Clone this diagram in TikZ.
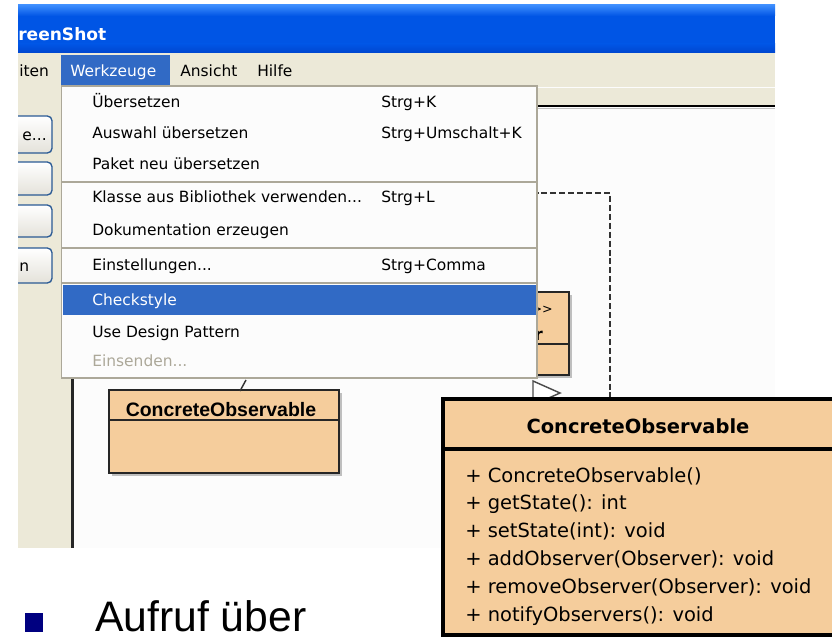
\documentclass[tikz,border=0pt]{standalone}
\usepackage{fontspec}
\usepackage{graphicx}
\setmainfont{DejaVu Sans}
\newfontfamily\uifont{DejaVu Sans}
\newfontfamily\slidefont{Liberation Sans}

\definecolor{xpblue}{HTML}{0055E5}
\definecolor{xpbluelight}{HTML}{3D8DFD}
\definecolor{xpbluedark}{HTML}{0046CF}
\definecolor{xpbeige}{HTML}{ECE9D8}
\definecolor{xpsel}{HTML}{316AC5}
\definecolor{menugray}{HTML}{ACA899}
\definecolor{menubg}{HTML}{FCFCFC}
\definecolor{btnborder}{HTML}{2A5A94}
\definecolor{btnbottom}{HTML}{E4E2DA}
\definecolor{umlfill}{HTML}{F5CD9C}
\definecolor{bulletblue}{HTML}{000080}
\definecolor{greytext}{HTML}{ACA899}

\tikzset{
  uitext/.style={anchor=base west, inner sep=0pt, font={\uifont\fontsize{11.6pt}{14pt}\selectfont}},
  shortcut/.style={uitext},
  menuhead/.style={uitext},
  winbutton/.style={draw=btnborder, line width=1pt, rounded corners=3.5pt,
                    top color=white, bottom color=btnbottom},
  sep/.style={draw=menugray, line width=1pt},
  umlbox/.style={fill=umlfill, draw=black!85, line width=1.1pt},
  umlshadow/.style={fill=black!25},
  method/.style={anchor=base west, inner sep=0pt, font={\uifont\fontsize{14.6pt}{17pt}\selectfont}},
  assoc/.style={draw=black!80, line width=1.2pt, dash pattern=on 4.5pt off 2.2pt},
}

\begin{document}
\begin{tikzpicture}[x=0.75pt, y=-0.75pt]
\useasboundingbox (0,0) rectangle (832,638);
\fill[white] (0,0) rectangle (832,638);

% ---------------- application window ----------------
\begin{scope}
  \clip (18,5) rectangle (775,548);

  % title bar
  \shade[top color=xpbluelight, bottom color=xpblue] (18,5) rectangle (775,16);
  \fill[xpblue] (18,16) rectangle (775,44);
  \shade[top color=xpblue, bottom color=xpbluedark] (18,44) rectangle (775,53);
  \node[anchor=base west, inner sep=0pt, text=white,
        font={\uifont\bfseries\fontsize{12.8pt}{15pt}\selectfont}] (title) at (18,41) {reenShot};

  % menu bar
  \fill[xpbeige] (18,53) rectangle (775,87);
  \fill[xpsel] (61,55) rectangle (170,87);
  \node[menuhead] (mbearb) at (19,77) {iten};
  \node[menuhead, text=white] (mwerkz) at (70,77) {Werkzeuge};
  \node[menuhead] (mansicht) at (180,77) {Ansicht};
  \node[menuhead] (mhilfe) at (257,77) {Hilfe};

  % left tool panel
  \fill[xpbeige] (18,87) rectangle (71,548);
  \fill[black!85] (71,87) rectangle (73.5,548);

  % buttons of the tool panel
  \draw[winbutton] (0,116) rectangle (52,153);
  \draw[winbutton] (0,162) rectangle (52,195);
  \draw[winbutton] (0,205) rectangle (52,237);
  \draw[winbutton] (0,248) rectangle (52,283);
  \node[uitext, anchor=base east] (btnone) at (47,141) {e...};
  \node[uitext] (btnfour) at (19,272) {n};

  % diagram canvas
  \fill[white!99!black] (73.5,87) rectangle (775,548);
  \fill[xpbeige] (73.5,88) rectangle (775,105);
  \draw[black, line width=1.2pt] (73.5,106) -- (775,106);
  \draw[black!25, line width=0.8pt] (73.5,108.5) -- (775,108.5);

  % dependency line (dashed)
  \coordinate (dashstart) at (470,193);
  \coordinate (dashcorner) at (610,193);
  \coordinate (dashend) at (610,400);
  \draw[assoc] (dashstart) -- (dashcorner) -- (dashend);

  % interface class box
  \fill[umlshadow] (423,295) rectangle (572,378);
  \draw[umlbox] (420,292) rectangle (569,375);
  \draw[black!85, line width=1.1pt] (420,344) -- (569,344);
  \node[anchor=base east, inner sep=0pt, font={\uifont\fontsize{9.5pt}{11pt}\selectfont}]
        (stereo) at (553,313) {<<interface>>};
  \node[anchor=base east, inner sep=0pt, font={\uifont\bfseries\fontsize{12.5pt}{14pt}\selectfont}]
        (obsname) at (543,340) {Observer};

  % generalisation arrow head
  \draw[draw=black!70, fill=white, line width=1.1pt] (533,381) -- (560,393) -- (533,405) -- cycle;

  % small class box
  \fill[umlshadow] (112,393) rectangle (342,476);
  \draw[umlbox] (109,390) rectangle (339,473);
  \draw[black!85, line width=1.1pt] (109,420) -- (339,420);
  \node[anchor=base, inner sep=0pt, font={\slidefont\bfseries\fontsize{14.6pt}{17pt}\selectfont}]
        (smalltitle) at (221,416) {ConcreteObservable};

  % fragments of connectors near the small box
  \coordinate (fraga) at (240,391);
  \coordinate (fragb) at (246,380);
  \draw[black!80, line width=1.1pt] (fraga) -- (fragb);
  \fill[black!45] (223,377) circle (1.1);

  % drop-down menu
  \filldraw[fill=menubg, draw=menugray, line width=1.2pt] (61.5,86) rectangle (537,378);
  \draw[sep] (62,182) -- (536.5,182);
  \draw[sep] (62,248) -- (536.5,248);
  \draw[sep] (62,283) -- (536.5,283);
  \fill[xpsel] (62.5,285) rectangle (536,315);

  \node[uitext] (iuebers) at (92,108) {Übersetzen};
  \node[shortcut] (kuebers) at (381,108) {Strg+K};
  \node[uitext] (iauswahl) at (92,139) {Auswahl übersetzen};
  \node[shortcut] (kauswahl) at (381,139) {Strg+Umschalt+K};
  \node[uitext] (ipaket) at (92,170) {Paket neu übersetzen};
  \node[uitext] (iklasse) at (92,203) {Klasse aus Bibliothek verwenden...};
  \node[shortcut] (kklasse) at (381,203) {Strg+L};
  \node[uitext] (idoku) at (92,235) {Dokumentation erzeugen};
  \node[uitext] (ieinst) at (92,271) {Einstellungen...};
  \node[shortcut] (keinst) at (381,271) {Strg+Comma};
  \node[uitext, text=white] (icheck) at (92,305) {Checkstyle};
  \node[uitext] (idesign) at (92,337) {Use Design Pattern};
  \node[uitext, text=greytext] (iseind) at (92,366) {Einsenden...};
\end{scope}

% ---------------- enlarged class box ----------------
\draw[fill=umlfill, draw=black, line width=3pt] (443,399) rectangle (845,635);
\draw[black, line width=3pt] (443,449) -- (845,449);
\node[anchor=base, inner sep=0pt, font={\uifont\bfseries\fontsize{14.6pt}{17pt}\selectfont}]
      (bigtitle) at (638,433) {ConcreteObservable};
\node[method] (m1) at (465,482) {+ ConcreteObservable()};
\node[method] (m2) at (465,509.8) {+ getState(): int};
\node[method] (m3) at (465,537.6) {+ setState(int): void};
\node[method] (m4) at (465,565.4) {+ addObserver(Observer): void};
\node[method] (m5) at (465,593.2) {+ removeObserver(Observer): void};
\node[method] (m6) at (465,621) {+ notifyObservers(): void};

% ---------------- slide bullet ----------------
\fill[bulletblue] (25,613) rectangle (43,632);
\node[anchor=base west, inner sep=0pt, font={\slidefont\fontsize{32pt}{36pt}\selectfont}]
      (bullettext) at (95,631) {Aufruf über};
\end{tikzpicture}
\end{document}
